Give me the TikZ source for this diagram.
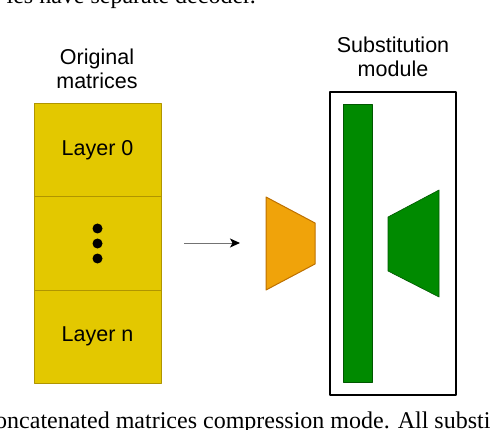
\documentclass[tikz,border=0pt]{standalone}
\usepackage{fontspec}
\setmainfont{Liberation Sans}
\newfontfamily\captionserif{Liberation Serif}
\usetikzlibrary{positioning,arrows.meta}

\definecolor{layerfill}{HTML}{E3C800}
\definecolor{layerline}{HTML}{B09500}
\definecolor{encfill}{HTML}{F0A30A}
\definecolor{encline}{HTML}{BD7000}
\definecolor{subfill}{HTML}{008A00}
\definecolor{subline}{HTML}{005700}

\begin{document}
\begin{tikzpicture}[x=1pt, y=-1pt, >=Stealth, line join=round,
  font=\fontsize{21.5}{24.5}\selectfont,
  layer/.style={draw=layerline, fill=layerfill, line width=1pt,
    minimum width=127pt, minimum height=93pt, inner sep=0pt, outer sep=0pt},
  title/.style={align=center, anchor=base, inner sep=0pt},
  captiontext/.style={inner sep=0pt, font=\captionserif\fontsize{24}{28}\selectfont}]

  % ===== 枠 =====
  \useasboundingbox (0,0) rectangle (492,430);
  \clip (0,0) rectangle (492,430);

  % ===== 本文の切れ端 =====
  \node[captiontext, anchor=base east] (captop) at (256,4) {ies have separate decoder.};
  \node[captiontext, anchor=base west] (capbottom) at (-5,428)
  {oncatenated matrices compression mode. All substi};

  % ===== 元の行列 =====
  \node[title] (origtitle) at (97,89) {Original\\matrices};

  \node[layer] (layer0) at (97.5,150.5) {Layer 0};
  \node[layer, below=0pt of layer0] (layerdots) {};
  \node[layer, below=0pt of layerdots] (layern) {Layer n};

  % ---- 省略の点 ----
  \foreach \dy in {-15,0,15}
    \fill (layerdots.center) ++(0,\dy) circle (5pt);

  % ===== 矢印 =====
  \coordinate (arrowtail) at (184,243);
  \coordinate (arrowtip) at (240,243);
  \draw[black!55, line width=1pt, -{Stealth[black, length=10pt, width=9pt, inset=2.5pt]}]
  (arrowtail) -- (arrowtip);

  % ===== エンコーダ（橙）=====
  \filldraw[fill=encfill, draw=encline, line width=1pt]
  (266,197) -- (315,223) -- (315,264) -- (266,290) -- cycle;

  % ===== 置換モジュール =====
  \node[title] (subtitle) at (393,77) {Substitution\\module};
  \node[draw, line width=1.8pt, minimum width=126pt, minimum height=303pt,
    inner sep=0pt] (module) at (393,243.5) {};

  % ---- 緑の棒 ----
  \node[draw=subline, fill=subfill, line width=0.8pt, minimum width=29pt,
    minimum height=278pt, inner sep=0pt] (bar) at (357.5,243) {};

  % ---- デコーダ（緑）----
  \filldraw[fill=subfill, draw=subline, line width=0.6pt]
  (388,217) -- (439,190) -- (439,297) -- (388,271) -- cycle;

\end{tikzpicture}
\end{document}
